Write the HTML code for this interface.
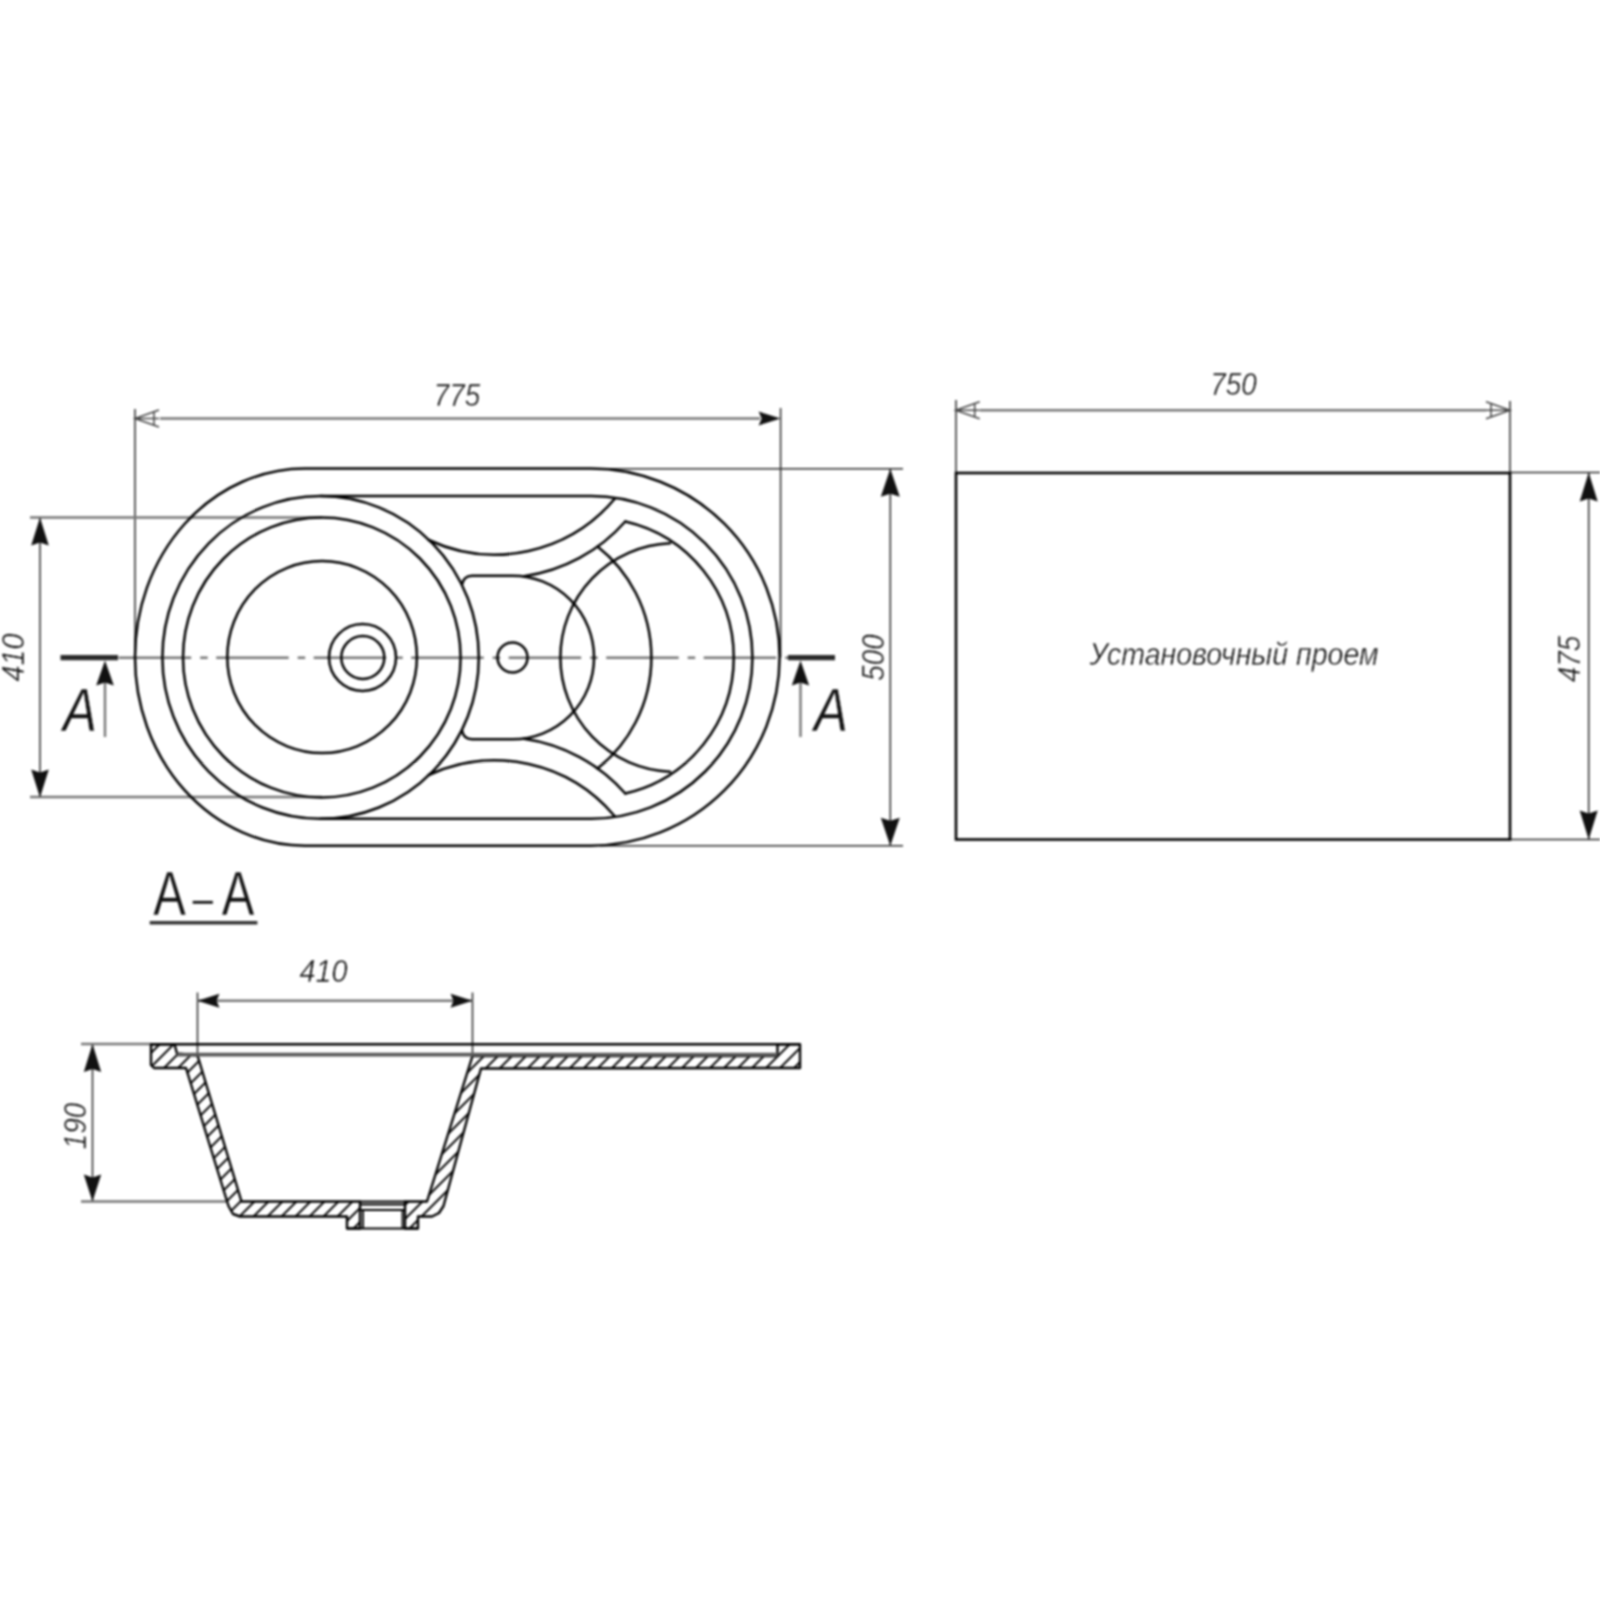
<!DOCTYPE html>
<html lang="ru"><head><meta charset="utf-8"><title>Чертеж мойки</title>
<style>html,body{margin:0;padding:0;background:#fff}body{width:1600px;height:1600px;overflow:hidden}svg{display:block;filter:blur(1px)}</style></head>
<body>
<svg width="1600" height="1600" viewBox="0 0 1600 1600">
<defs><pattern id="h" width="14" height="14" patternUnits="userSpaceOnUse"><path d="M-2 16 L16 -2 M-9 9 L9 -9 M5 23 L23 5" stroke="#111" stroke-width="2.1"/></pattern></defs>
<rect width="1600" height="1600" fill="#fff"/>
<g stroke="#2a2a2a" stroke-width="1.5" fill="none">
<path d="M135 409 V657.5 M780.6 408 V657.5"/>
<path d="M600 468.7 H903 M600 845.8 H903 M890.3 468.7 V845.8"/>
<path d="M956 400 V473 M1510 401 V473 M1510 472.5 H1600 M1510 839.5 H1600 M1588.7 472.5 V839.5"/>
<path d="M40 517.5 V797.5"/>
<path d="M197.5 992.5 V1056 M472.5 992.5 V1056 M92.5 1044 V1201.5"/>
</g>
<g stroke="#777" stroke-width="2.4" fill="none">
<path d="M160 418.5 H760"/>
<path d="M980 410.3 H1486"/>
<path d="M30 517.5 H322 M30 797 H322"/>
<path d="M197.5 1000.7 H472.5"/>
<path d="M105 680 V737 M800.5 680 V737"/>
<path d="M81 1044 H151 M81 1201.5 H226"/>
</g>
<path d="M118.7 657.8 H788" stroke="#777" stroke-width="2.5" fill="none" stroke-dasharray="72.5 9 7.5 8.5"/>
<path d="M60.5 657.6 H118 M788 657.6 H835" stroke="#2a2a2a" stroke-width="5.2" fill="none"/>
<polygon points="780.6,418.5 758.6,411.5 761.6,418.5 758.6,425.5" fill="#111"/>
<path d="M159.0 410.0 L135.0 418.5 L159.0 427.0 M154.0 411.0 L154.0 426.0 M135.0 418.5 L159.0 418.5" fill="none" stroke="#444" stroke-width="1.5"/>
<path d="M979.7 401.8 L955.7 410.3 L979.7 418.8 M974.7 402.8 L974.7 417.8 M955.7 410.3 L979.7 410.3" fill="none" stroke="#444" stroke-width="1.5"/>
<path d="M1486.0 401.8 L1510.0 410.3 L1486.0 418.8 M1491.0 402.8 L1491.0 417.8 M1510.0 410.3 L1486.0 410.3" fill="none" stroke="#444" stroke-width="1.5"/>
<polygon points="890.3,468.7 880.8,496.7 890.3,493.7 899.8,496.7" fill="#111"/>
<polygon points="890.3,845.8 899.8,817.8 890.3,820.8 880.8,817.8" fill="#111"/>
<polygon points="1588.7,472.5 1579.7,501.5 1588.7,498.5 1597.7,501.5" fill="#111"/>
<polygon points="1588.7,839.5 1597.7,810.5 1588.7,813.5 1579.7,810.5" fill="#111"/>
<polygon points="40.0,517.5 31.2,545.5 40.0,542.5 48.8,545.5" fill="#111"/>
<polygon points="40.0,797.5 48.8,769.5 40.0,772.5 31.2,769.5" fill="#111"/>
<polygon points="105.0,660.5 96.2,685.5 105.0,682.5 113.8,685.5" fill="#111"/>
<polygon points="800.5,660.5 791.8,685.5 800.5,682.5 809.2,685.5" fill="#111"/>
<polygon points="197.5,1000.7 219.5,1007.7 216.5,1000.7 219.5,993.7" fill="#111"/>
<polygon points="472.5,1000.7 450.5,993.7 453.5,1000.7 450.5,1007.7" fill="#111"/>
<polygon points="92.5,1044.0 83.8,1072.0 92.5,1069.0 101.2,1072.0" fill="#111"/>
<polygon points="92.5,1201.5 101.2,1174.5 92.5,1177.5 83.8,1174.5" fill="#111"/>
<g stroke="#000" stroke-width="2.5" fill="none" stroke-linecap="round" stroke-linejoin="round">
<path d="M305.0 468.5 H590.8 A188.8 188.6 0 0 1 590.8 845.7 H305.0 A170.0 188.6 0 0 1 305.0 468.5 Z"/>
<path d="M320.6 496.0 H591.2 A161.3 161.4 0 0 1 591.2 818.8 H320.6"/>
<ellipse cx="320.6" cy="657.4" rx="158.2" ry="161.4"/>
<ellipse cx="321.8" cy="657.5" rx="138.8" ry="140"/>
<ellipse cx="322.1" cy="657.1" rx="94.8" ry="96"/>
<circle cx="362.5" cy="657.5" r="33.5"/><circle cx="362.8" cy="657.5" r="21.5"/>
<circle cx="512.5" cy="657.5" r="15"/>
</g>
<g stroke="#000" stroke-width="2.5" fill="none" stroke-linecap="round" stroke-linejoin="round">
<path d="M428.7 540.0 A156.6 156.6 0 0 0 614.5 499.0"/>
<path d="M524 576.3 A166.3 166.3 0 0 0 625.3 521.5"/>
<path d="M428.7 775.0 A156.6 156.6 0 0 1 614.5 816.0"/>
<path d="M524 738.7 A166.3 166.3 0 0 1 625.3 793.5"/>
<path d="M625.3 521.5 A139.5 139.5 0 0 1 625.3 793.5"/>
<path d="M670 543.2 A114.4 114.4 0 0 0 670 771.8"/>
<path d="M597.5 546.5 A141.3 141.3 0 0 1 597.5 768.5"/>
<path d="M462 584.5 Q463.5 576 472 575.7 H512.5 A81.6 81.8 0 0 1 512.5 739.3 H472 Q463.5 739 462 730.5"/>
</g>
<rect x="956" y="473" width="554" height="366.5" fill="none" stroke="#000" stroke-width="2.6"/>
<g>
<polygon points="151,1044.3 174.5,1044.3 177,1053.5 197.5,1055.5 241.5,1201.5 360,1201.5 360,1228.5 347,1228.5 347,1216.5 240,1216.5 233,1214 228.5,1206 186,1068 154,1068 151,1065" fill="url(#h)" stroke="#000" stroke-width="2.4" stroke-linejoin="round"/>
<polygon points="405,1201.5 427,1201.5 472.5,1056 777.5,1056 777.5,1044.3 800,1044.3 800,1068 481,1068.5 443.5,1206 439,1213 432,1216.5 418,1216.5 418,1228.5 405,1228.5" fill="url(#h)" stroke="#000" stroke-width="2.4" stroke-linejoin="round"/>
<path d="M151 1044.3 H800" stroke="#000" stroke-width="2.5" fill="none"/>
<path d="M177 1054.6 H777.5" stroke="#5a5a5a" stroke-width="3.6" fill="none"/>
<path d="M360 1201.5 H405 M360 1204.5 H405 M360 1210 H405 M363 1210 V1228 M402.5 1210 V1228 M347 1228.5 H418" stroke="#000" stroke-width="1.8" fill="none"/>
</g>
<g font-family="'Liberation Sans', sans-serif" fill="#111" stroke="#fff" stroke-width="0.45">
<text x="457" y="405.5" font-size="31" font-style="italic" text-anchor="middle" textLength="46.5" lengthAdjust="spacingAndGlyphs">775</text>
<text x="1233.5" y="394.5" font-size="31" font-style="italic" text-anchor="middle" textLength="46.5" lengthAdjust="spacingAndGlyphs">750</text>
<text x="323.5" y="981.5" font-size="31" font-style="italic" text-anchor="middle" textLength="48" lengthAdjust="spacingAndGlyphs">410</text>
<text transform="translate(23.5,657.5) rotate(-90)" font-size="31" font-style="italic" text-anchor="middle" textLength="48" lengthAdjust="spacingAndGlyphs">410</text>
<text transform="translate(883.5,657.5) rotate(-90)" font-size="31" font-style="italic" text-anchor="middle" textLength="46.5" lengthAdjust="spacingAndGlyphs">500</text>
<text transform="translate(1580,659) rotate(-90)" font-size="31" font-style="italic" text-anchor="middle" textLength="46.5" lengthAdjust="spacingAndGlyphs">475</text>
<text transform="translate(85.5,1126) rotate(-90)" font-size="31" font-style="italic" text-anchor="middle" textLength="46.5" lengthAdjust="spacingAndGlyphs">190</text>
<text x="1234" y="665" font-size="30.5" font-style="italic" text-anchor="middle" textLength="289" lengthAdjust="spacingAndGlyphs">Установочный проем</text>
<text x="80" y="730.5" font-size="62" font-style="italic" text-anchor="middle" textLength="34" lengthAdjust="spacingAndGlyphs">A</text>
<text x="831" y="730.5" font-size="62" font-style="italic" text-anchor="middle" textLength="34" lengthAdjust="spacingAndGlyphs">A</text>
<text transform="translate(0,914.5) scale(0.77,1)" font-size="63.5" x="199" y="0">A<tspan x="250" font-size="48" dy="0">–</tspan><tspan x="288" dy="0">A</tspan></text>
</g>
<path d="M149.7 922.7 H257.4" stroke="#333" stroke-width="3.6" fill="none"/>
</svg>
</body></html>
